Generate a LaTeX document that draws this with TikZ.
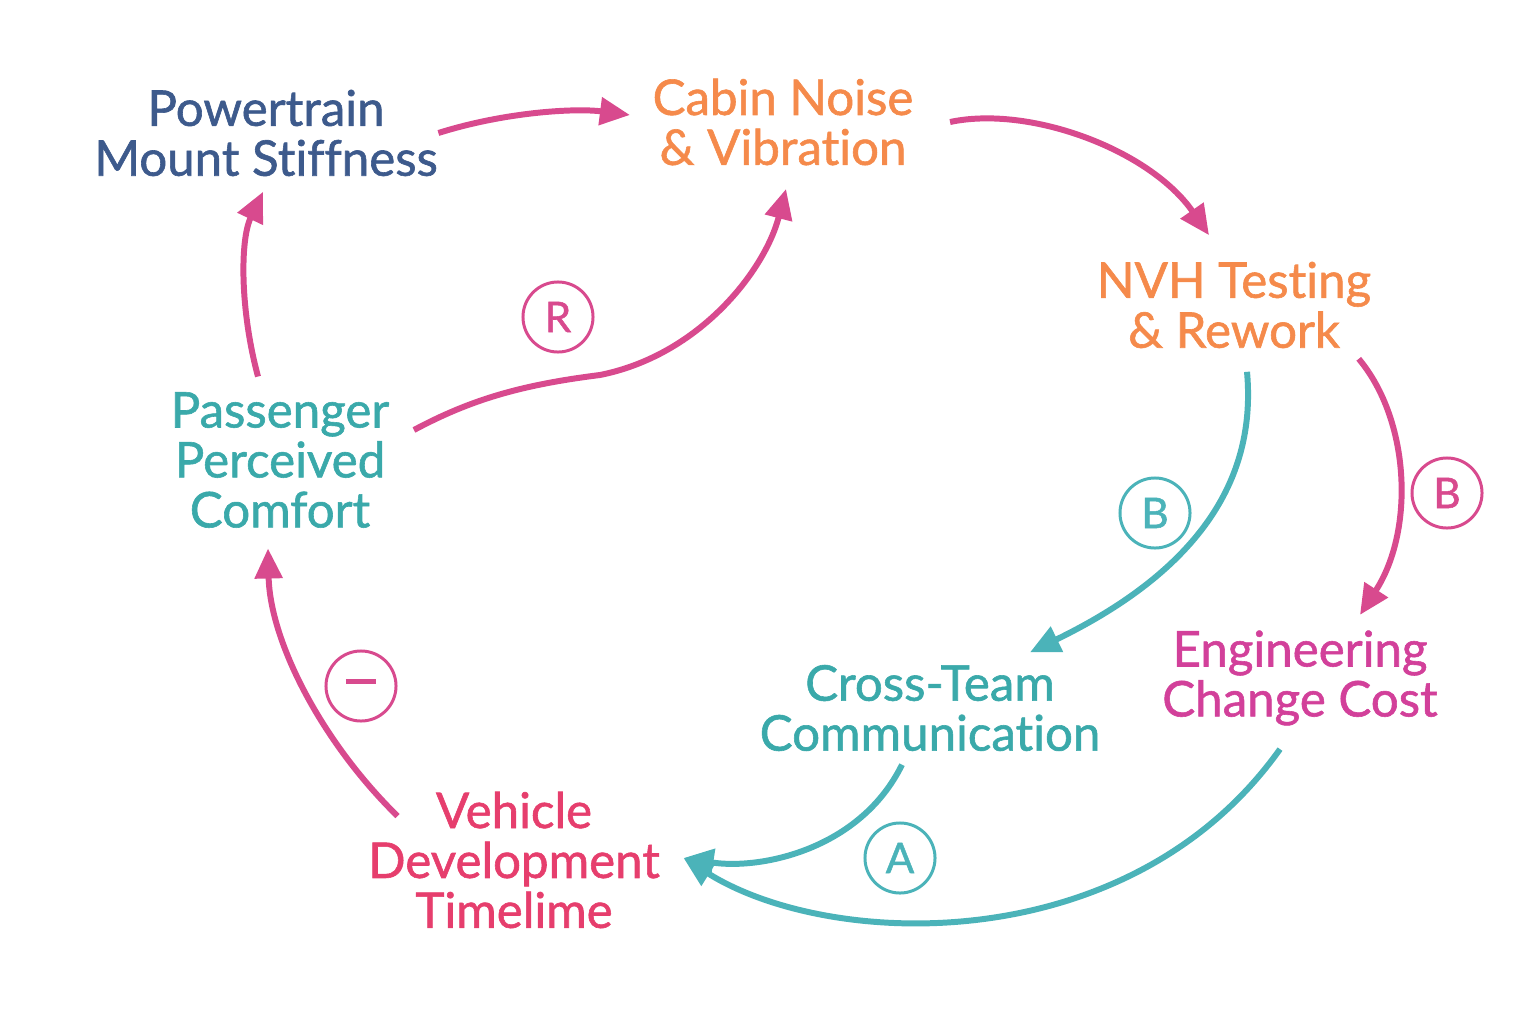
\documentclass[tikz,border=0pt]{standalone}
\usepackage{fontspec}
\setmainfont{Lato}[Ligatures=NoCommon, FakeBold=1.2]
\usetikzlibrary{arrows.meta,calc}
\definecolor{navy}{RGB}{61,90,140}
\definecolor{orng}{RGB}{245,138,75}
\definecolor{tealtext}{RGB}{58,169,170}
\definecolor{tealarrow}{RGB}{75,179,185}
\definecolor{magtext}{RGB}{210,64,154}
\definecolor{pinktext}{RGB}{230,62,109}
\definecolor{magarrow}{RGB}{216,74,142}
\begin{document}
\begin{tikzpicture}[x=0.01cm, y=-0.01cm,
            var_style/.style={inner sep=0pt, align=center, font=\fontsize{14}{14.2}\selectfont},
            loop_style/.style={circle, draw, line width=0.85pt, minimum size=0.7cm, inner sep=0pt, font=\fontsize{12}{12}\selectfont},
            edge_style/.style={line width=1.7pt, -{Triangle[length=0.3cm, width=0.27cm]}}]
            \tikzset{pink edge/.style={edge_style, draw=magarrow, color=magarrow},
                     teal edge/.style={edge_style, draw=tealarrow, color=tealarrow}}
            \useasboundingbox (0,0) rectangle (1536,1024);
            \node[var_style, text=navy] (pw) at (266,133) {Powertrain\\Mount Stiffness};
            \node[var_style, text=orng] (cab) at (783,122) {Cabin Noise\\\& Vibration};
            \node[var_style, text=orng] (nvh) at (1234,305) {NVH Testing\\\& Rework};
            \node[var_style, text=tealtext] (pass) at (280,460) {Passenger\\Perceived\\Comfort};
            \node[var_style, text=magtext] (eng) at (1300,678) {Engineering\\Change Cost};
            \node[var_style, text=tealtext] (cross) at (930,708) {Cross-Team\\Communication};
            \node[var_style, text=pinktext] (veh) at (514,860) {Vehicle\\Development\\Timelime};
            \node[loop_style, draw=magarrow, text=magarrow] (r) at (558,317) {R};
            \node[loop_style, draw=tealarrow, text=tealarrow] (b1) at (1155,513) {B};
            \node[loop_style, draw=magarrow, text=magarrow] (b2) at (1447,493) {B};
            \node[loop_style, draw=magarrow, text=magarrow] (neg) at (361,686) {\rule[0.9mm]{0.3cm}{1.4pt}};
            \node[loop_style, draw=tealarrow, text=tealarrow] (a) at (900,858) {A};
            \draw [pink edge] (pw.east) .. controls (505,112) and (575,108) .. ($(cab.west)+(-22,-7)$);
            \draw [pink edge] ($(cab.east)+(36,0)$) .. controls (1030,105) and (1150,150) .. ($(nvh.north)+(-25,-26)$);
            \draw [pink edge] ($(nvh.south east)+(-13,10)$) .. controls (1410,420) and (1415,530) .. ($(eng.north)+(60,-15)$);
            \draw [teal edge] ($(nvh.south)+(13,23)$) .. controls (1255,460) and (1220,560) .. ($(cross.north)+(100,-12)$);
            \draw [teal edge] ($(cross.south)+(-28,13)$) .. controls (860,850) and (760,870) .. ($(veh.east)+(23,-2)$);
            \draw [teal edge] ($(eng.south)+(-20,23)$) .. controls (1130,960) and (830,950) .. ($(veh.east)+(23,-2)$);
            \draw [pink edge] ($(veh.north west)+(30,25)$) .. controls (320,740) and (270,640) .. ($(pass.south)+(-12,20)$);
            \draw [pink edge] ($(pass.north)+(-22,-15)$) .. controls (240,310) and (240,240) .. ($(pw.south)+(-3,15)$);
            \draw [pink edge] ($(pass.east)+(24,-30)$) .. controls (470,400) and (520,385) .. (600,375)
                  .. controls (700,355) and (765,270) .. ($(cab.south)+(3,23)$);
        \end{tikzpicture}
\end{document}
